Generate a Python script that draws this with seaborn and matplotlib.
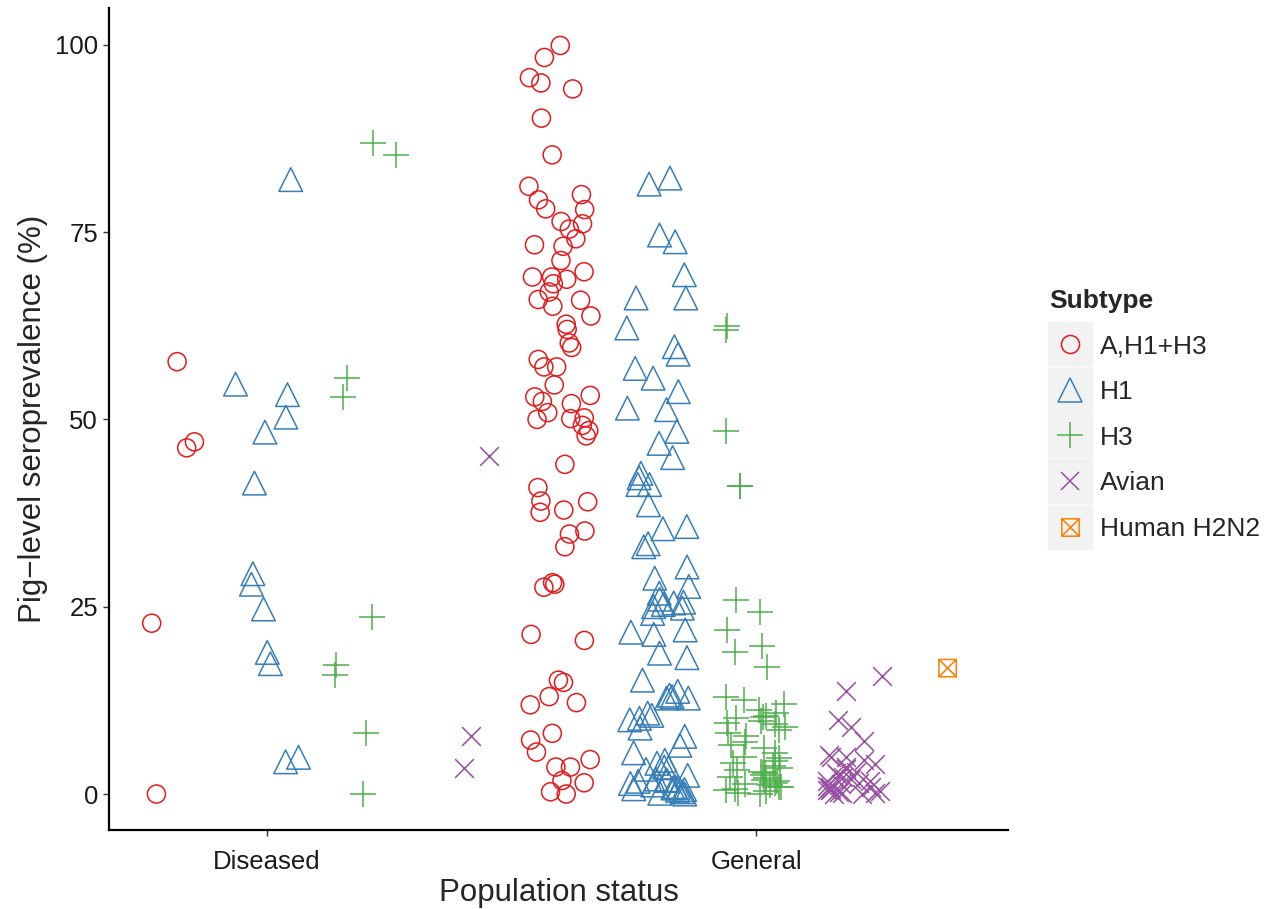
import numpy as np
import pandas as pd
import seaborn as sns
import matplotlib.pyplot as plt
from matplotlib.lines import Line2D
from matplotlib.path import Path
from matplotlib.legend_handler import HandlerTuple

# Values (pig-level seroprevalence, %)
populations = ["Diseased", "General"]
subtypes = ["A,H1+H3", "H1", "H3", "Avian", "Human H2N2"]

dis_a = [57.7, 47.0, 46.2, 22.8, 0.0]
dis_h1 = [82.0, 54.7, 53.3, 50.3, 48.3, 41.5, 29.4, 28.0, 24.7, 18.9, 17.4, 4.9, 4.3]
dis_h3 = [86.9, 85.3, 55.5, 53.0, 23.6, 17.2, 15.9, 8.1, 0.0]
dis_avian = [45.1, 7.7, 3.5]

gen_a = [99.9, 98.3, 95.6, 94.9, 94.1, 90.2, 85.3, 81.1, 80.0, 79.3, 78.1, 78.0,
         76.4, 76.1, 75.4, 74.1, 73.3, 73.1, 71.2, 69.7, 69.0, 68.7, 69.0, 68.1,
         67.0, 66.0, 65.9, 65.1, 63.8, 62.7, 62.0, 60.2, 59.6, 58.0, 57.0, 57.0,
         54.6, 53.0, 53.2, 52.4, 52.1, 50.9, 50.2, 50.1, 50.0, 49.2, 48.5, 47.8,
         44.0, 40.9, 39.1, 39.0, 37.9, 37.6, 35.1, 34.7, 33.0, 28.2, 28.0, 27.6,
         21.3, 20.5, 15.2, 14.9, 13.0, 12.2, 11.9, 8.1, 7.2, 5.6, 4.6, 3.6, 3.6,
         1.8, 1.5, 0.3, 0.0]
gen_h1 = [82.2, 81.4, 74.6, 73.7, 69.3, 66.2, 66.2, 62.2, 59.7, 58.7, 56.8, 55.5,
          53.7, 51.5, 51.3, 48.4, 46.8, 44.9, 42.8, 42.2, 41.3, 41.3,
          38.6, 35.7, 35.4, 33.4, 33.0, 30.3, 28.8, 27.7, 26.8, 26.0, 25.6, 25.5,
          25.3, 25.0, 24.8, 24.1, 21.9, 21.6, 21.3, 18.8, 18.2, 15.2, 13.7, 13.2,
          13.0, 12.8, 12.8, 10.8, 10.5, 10.1, 9.9, 8.8, 7.7, 6.5, 5.5, 4.5, 4.1,
          3.6, 3.5, 3.3, 2.5, 2.0, 1.9, 1.8, 1.7, 1.4, 1.2, 1.0, 0.9, 0.8, 0.7,
          0.6, 0.5, 0.3, 0.1, 0.0]
gen_h3 = [62.4, 61.9, 48.4, 41.1, 41.1, 25.9, 24.3, 21.9, 19.8, 19.0, 16.9,
          13.0, 12.6, 12.0, 11.2, 10.8, 10.4, 10.3, 10.1, 9.8, 9.5, 9.4, 9.0,
          8.6, 8.2, 7.7, 7.0, 6.5, 6.2, 5.5, 5.0, 4.8, 4.4, 4.1, 3.8, 3.5, 3.2,
          3.0, 2.8, 2.5, 2.3, 2.1, 1.9, 1.7, 1.5, 1.4, 1.2, 1.0, 0.9, 0.7, 0.5,
          0.4, 0.2, 0.0]
gen_avian = [15.8, 13.7, 9.9, 9.0, 7.1, 5.2, 5.0, 4.9, 4.5, 4.0, 3.6, 3.3, 3.0,
             2.8, 2.6, 2.3, 2.0, 1.8, 1.7, 1.5, 1.3, 1.1, 1.0, 0.9, 0.7, 0.6,
             0.5, 0.4, 0.3, 0.2, 0.1, 0.0, 0.0]
gen_h2n2 = [16.8]

values = {
    ("Diseased", "A,H1+H3"): dis_a,
    ("Diseased", "H1"): dis_h1,
    ("Diseased", "H3"): dis_h3,
    ("Diseased", "Avian"): dis_avian,
    ("General", "A,H1+H3"): gen_a,
    ("General", "H1"): gen_h1,
    ("General", "H3"): gen_h3,
    ("General", "Avian"): gen_avian,
    ("General", "Human H2N2"): gen_h2n2,
}

# dodge slots as they appear in the original (Diseased sits one slot to the right)
slot_order = {
    "Diseased": ["", "A,H1+H3", "H1", "H3", "Avian"],
    "General": ["A,H1+H3", "H1", "H3", "Avian", "Human H2N2"],
}
slot_w = 0.2
rng = np.random.default_rng(7)

rows = []
for (pop, sub), vals in values.items():
    k = slot_order[pop].index(sub)
    base = populations.index(pop) + (k - 2) * slot_w
    for v in vals:
        rows.append({"Population": pop, "Subtype": sub, "Seroprevalence": v,
                     "xpos": base + rng.uniform(-0.065, 0.065)})
df = pd.DataFrame(rows)

# square with a cross inside (ggplot shape 7)
sq_cross = Path(
    [(-1, -1), (1, -1), (1, 1), (-1, 1), (-1, -1), (-1, -1), (1, 1), (-1, 1), (1, -1)],
    [Path.MOVETO, Path.LINETO, Path.LINETO, Path.LINETO, Path.CLOSEPOLY,
     Path.MOVETO, Path.LINETO, Path.MOVETO, Path.LINETO])

colors = {"A,H1+H3": "#E41A1C", "H1": "#377EB8", "H3": "#4DAF4A",
          "Avian": "#984EA3", "Human H2N2": "#FF7F00"}
markers = {"A,H1+H3": "o", "H1": "^", "H3": "+", "Avian": "x", "Human H2N2": sq_cross}
msize = {"A,H1+H3": 13, "H1": 17, "H3": 18.5, "Avian": 13.5, "Human H2N2": 12.5}
filled = {"A,H1+H3": True, "H1": True, "H3": False, "Avian": False, "Human H2N2": True}

sns.set_style("white")
plt.rcParams["font.family"] = ["Liberation Sans", "DejaVu Sans"]

fig = plt.figure(figsize=(12.77, 9.09), dpi=100)
ax = fig.add_axes([109 / 1277, 1 - 830 / 909, (1008 - 109) / 1277, (830 - 8) / 909])

for sub in subtypes:
    d = df[df["Subtype"] == sub]
    kw = dict(marker=markers[sub], s=msize[sub] ** 2, linewidth=1.1, legend=False)
    if filled[sub]:
        kw.update(facecolor="none", edgecolor=colors[sub])
    else:
        kw.update(color=colors[sub])
    sns.scatterplot(data=d, x="xpos", y="Seroprevalence", ax=ax, **kw)

ax.set_xlim(-0.323, 1.515)
ax.set_ylim(-4.8, 104.9)
ax.set_xticks([0, 1])
ax.set_xticklabels(populations)
ax.set_yticks([0, 25, 50, 75, 100])
ax.set_xlabel("Population status", fontsize=22.5, labelpad=3)
ax.set_ylabel("Pig\u2212level seroprevalence (%)", fontsize=22.5, labelpad=5)
ax.tick_params(axis="both", labelsize=18.5, length=4, width=1, color="#333333",
               labelcolor="#1a1a1a", direction="out", left=True, bottom=True, pad=4)
ax.tick_params(axis="x", pad=10.5)
sns.despine(ax=ax)
for sp in ["left", "bottom"]:
    ax.spines[sp].set_linewidth(1.6)
    ax.spines[sp].set_color("black")

# legend with grey key boxes like ggplot
handles = []
for sub in subtypes:
    bg = Line2D([], [], marker="s", markersize=31, color="#F2F2F2", linestyle="none")
    if filled[sub]:
        mk = Line2D([], [], marker=markers[sub], markersize=msize[sub], markerfacecolor="none",
                    markeredgecolor=colors[sub], markeredgewidth=1.1, linestyle="none")
    else:
        mk = Line2D([], [], marker=markers[sub], markersize=msize[sub], color=colors[sub],
                    markeredgewidth=1.1, linestyle="none")
    handles.append((bg, mk))

leg = fig.legend(handles, subtypes, title="Subtype", loc="upper left",
                 bbox_to_anchor=(1025 / 1277, 1 - 265 / 909), frameon=False,
                 handler_map={tuple: HandlerTuple(ndivide=1)},
                 fontsize=19, title_fontproperties={"weight": "bold", "size": 19},
                 labelspacing=0.82, handlelength=1.63, handletextpad=0.3,
                 alignment="left")

fig.savefig("out.png", dpi=100)
